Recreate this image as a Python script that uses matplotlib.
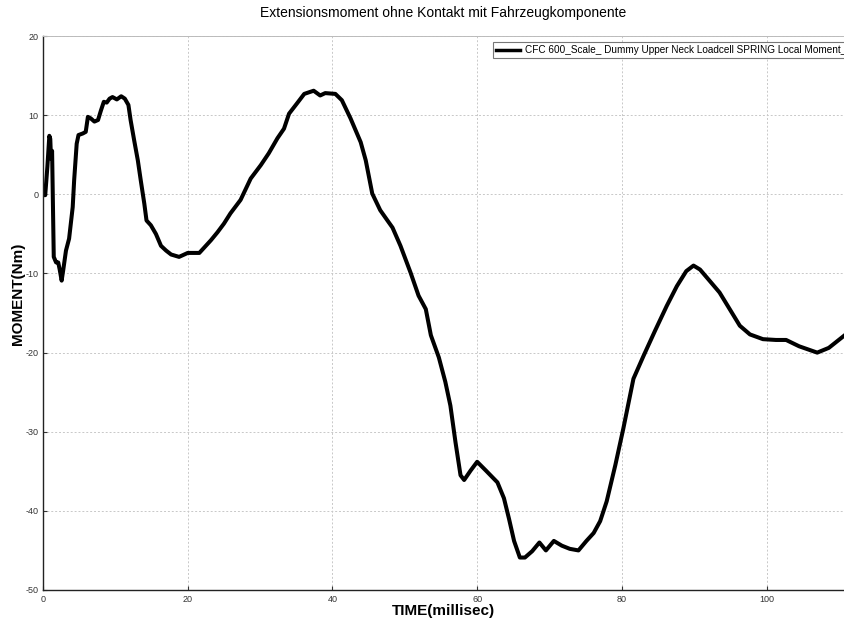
import numpy as np
import matplotlib.pyplot as plt

# time (ms) and upper neck moment (Nm)
time_ms = [0.0, 0.3, 0.6, 0.87, 1.0, 1.1, 1.25, 1.48, 1.8, 2.1, 2.3, 2.57, 2.8, 3.17,
           3.6, 4.1, 4.3, 4.65, 4.9, 5.5, 5.9, 6.2, 6.6, 7.1, 7.6, 8.0, 8.4, 8.8,
           9.2, 9.6, 10.2, 10.8, 11.3, 11.8, 12.1, 12.6, 13.1, 13.5, 14.0, 14.3,
           14.9, 15.6, 16.3, 17.0, 17.7, 18.8, 20.0, 21.6, 22.3, 23.2, 24.1, 25.0,
           25.9, 27.3, 28.7, 30.1, 31.2, 32.4, 33.3, 34.0, 35.1, 36.1, 37.4, 38.3,
           39.0, 40.4, 41.3, 42.5, 43.9, 44.6, 45.5, 46.6, 47.6, 48.3, 49.4, 50.8,
           51.9, 52.9, 53.6, 54.7, 55.6, 56.3, 57.0, 57.7, 58.2, 59.1, 60.0, 61.2,
           62.8, 63.7, 64.4, 65.1, 65.9, 66.6, 67.6, 68.6, 69.5, 70.6, 71.7, 72.8,
           74.0, 75.1, 76.1, 77.0, 77.9, 79.1, 80.2, 81.6, 83.0, 84.6, 86.2, 87.6,
           88.9, 89.9, 90.8, 92.2, 93.5, 94.9, 96.3, 97.7, 99.5, 101.3, 102.7,
           104.5, 107.0, 108.6, 110.8]
moment_nm = [-0.1, -0.1, 3.5, 7.4, 7.0, 4.5, 5.5, -7.9, -8.6, -8.6, -9.5, -10.9, -9.5, -7.1,
             -5.6, -1.6, 1.8, 6.4, 7.5, 7.7, 7.9, 9.8, 9.6, 9.2, 9.4, 10.6, 11.7, 11.6,
             12.1, 12.3, 12.0, 12.4, 12.1, 11.3, 9.4, 6.8, 4.3, 1.8, -1.2, -3.3,
             -3.9, -5.0, -6.5, -7.1, -7.6, -7.9, -7.4, -7.4, -6.7, -5.8, -4.8, -3.7,
             -2.4, -0.7, 2.0, 3.7, 5.2, 7.1, 8.3, 10.2, 11.5, 12.7, 13.1, 12.5,
             12.8, 12.7, 11.9, 9.6, 6.6, 4.3, 0.1, -2.0, -3.3, -4.2, -6.5, -9.9,
             -12.8, -14.5, -17.8, -20.6, -23.7, -26.7, -31.3, -35.5, -36.1, -34.9, -33.8, -34.9,
             -36.4, -38.4, -41.0, -43.8, -45.9, -45.9, -45.1, -44.0, -45.0, -43.8, -44.4, -44.8,
             -45.0, -43.8, -42.8, -41.3, -38.8, -34.2, -29.6, -23.3, -20.4, -17.2, -14.1, -11.6,
             -9.7, -9.0, -9.5, -11.0, -12.4, -14.5, -16.6, -17.7, -18.3, -18.4, -18.4,
             -19.2, -20.0, -19.4, -17.8]

x_ticks = [0, 20, 40, 60, 80, 100]
y_ticks = [-50, -40, -30, -20, -10, 0, 10, 20]
legend_label = "CFC 600_Scale_ Dummy Upper Neck Loadcell SPRING Local Moment_Y"

plt.rcParams['font.family'] = ['Liberation Sans', 'DejaVu Sans']
plt.rcParams['axes.unicode_minus'] = False        # plain hyphen like the original

fig = plt.figure(figsize=(8.44, 6.23), dpi=100)
ax = fig.add_axes([0.051, 0.053, 0.949, 0.889])

ax.plot(time_ms, moment_nm, color='black', linewidth=2.9, label=legend_label,
        solid_joinstyle='round')

ax.set_xlim(0, 110.7)
ax.set_ylim(-50, 20)
ax.set_xticks(x_ticks)
ax.set_yticks(y_ticks)
ax.tick_params(direction='in', length=3, labelsize=6.5, colors='#333333')
ax.grid(True, linestyle=(0, (2, 2)), color='#c8c8c8', linewidth=0.7)

for side in ['left', 'bottom']:
    ax.spines[side].set_color('#222222')
    ax.spines[side].set_linewidth(1.0)
for side in ['top', 'right']:
    ax.spines[side].set_color('#bbbbbb')
    ax.spines[side].set_linewidth(0.7)

ax.set_title("Extensionsmoment ohne Kontakt mit Fahrzeugkomponente",
             fontsize=10, pad=14)
ax.set_xlabel("TIME(millisec)", fontsize=11, fontweight='bold', labelpad=0)
ax.set_ylabel("MOMENT(Nm)", fontsize=11, fontweight='bold')
ax.yaxis.set_label_coords(-0.022, 0.535)

# legend box runs off the right edge of the figure, as in the original
leg = ax.legend(loc='upper left', bbox_to_anchor=(0.562, 0.989), fontsize=7.2,
                frameon=True, fancybox=False, borderpad=0.3, handlelength=2.4,
                handletextpad=0.5, borderaxespad=0)
leg.get_frame().set_edgecolor('#555555')
leg.get_frame().set_linewidth(0.8)
leg.get_lines()[0].set_linewidth(2.5)

fig.savefig('out.png', dpi=100)
